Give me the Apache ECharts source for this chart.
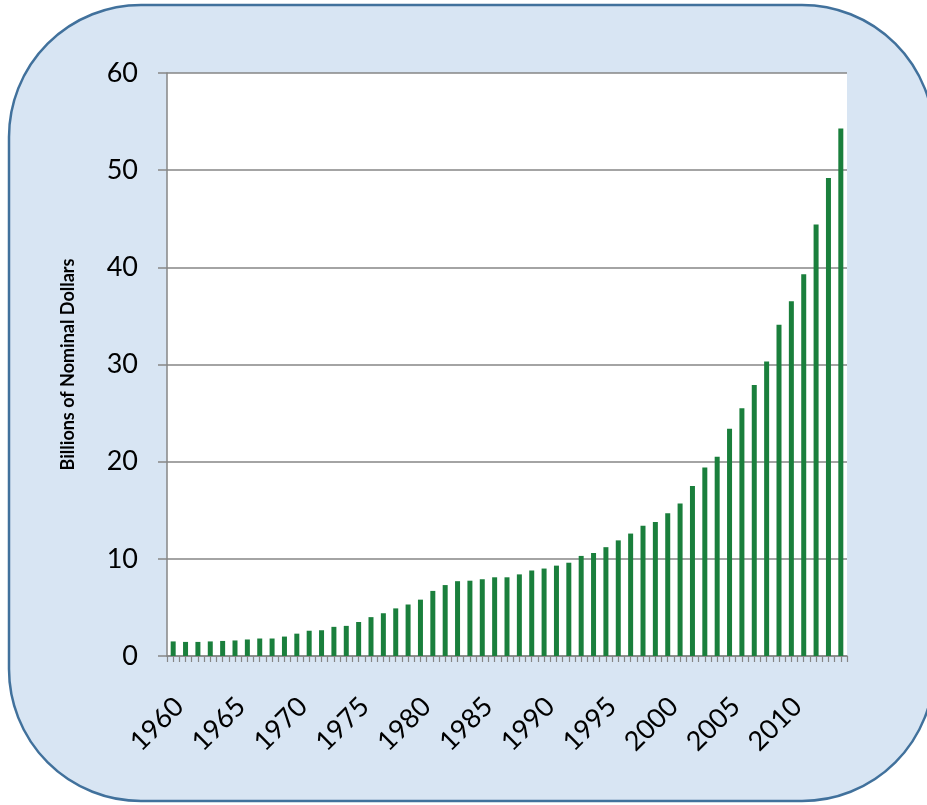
<!DOCTYPE html>
<html>
<head>
<meta charset="utf-8">
<script src="https://cdn.jsdelivr.net/npm/echarts@6/dist/echarts.min.js"></script>
<style>
  html, body { margin: 0; padding: 0; background: #ffffff; }
  #chart { width: 927px; height: 805px; }
</style>
</head>
<body>
<div id="chart"></div>
<script>
// Annual spending, billions of nominal dollars, 1960-2014
const years = [];
for (let y = 1960; y <= 2014; y++) years.push(String(y));

const values = [
  1.5, 1.45, 1.45, 1.5, 1.55, 1.6, 1.7, 1.8, 1.8, 2.0,
  2.3, 2.6, 2.65, 3.0, 3.1, 3.5, 4.0, 4.4, 4.9, 5.3,
  5.8, 6.7, 7.3, 7.7, 7.75, 7.9, 8.1, 8.1, 8.4, 8.8,
  9.0, 9.3, 9.6, 10.3, 10.6, 11.2, 11.9, 12.6, 13.4, 13.8,
  14.7, 15.7, 17.5, 19.4, 20.5, 23.4, 25.5, 27.9, 30.3, 34.1,
  36.5, 39.3, 44.4, 49.2, 54.3
];

const yTicks = [0, 10, 20, 30, 40, 50, 60];
const axisTitle = 'Billions of Nominal Dollars';

const chart = echarts.init(document.getElementById('chart'), null, { renderer: 'canvas' });

const gridColor = '#868686';
const labelFont = 'Lato, "Open Sans", sans-serif';

chart.setOption({
  animation: false,
  backgroundColor: '#ffffff',
  graphic: [{
    type: 'rect',
    z: -10,
    silent: true,
    shape: { x: 9, y: 5, width: 925, height: 796, r: 132 },
    style: { fill: '#d8e5f3', stroke: '#41719c', lineWidth: 2.5 }
  }],
  grid: {
    left: 167, right: 80, top: 73, bottom: 149,
    show: true, backgroundColor: '#ffffff', borderWidth: 0
  },
  xAxis: [{
    type: 'category',
    data: years,
    boundaryGap: true,
    axisLine: { show: true, lineStyle: { color: gridColor, width: 1.5 } },
    axisTick: { show: true, interval: 0, length: 6, lineStyle: { color: gridColor, width: 1.2 } },
    axisLabel: {
      interval: 4, rotate: 45, margin: 33,
      align: 'right', verticalAlign: 'top',
      padding: [0, 5, 0, 0],
      color: '#000', fontSize: 27, fontFamily: labelFont
    }
  }, {
    // second tick row: marks at the centre of every bar
    type: 'category',
    data: years,
    position: 'bottom',
    boundaryGap: true,
    axisLine: { show: false },
    axisTick: { show: true, interval: 0, alignWithLabel: true, length: 6, lineStyle: { color: gridColor, width: 1.2 } },
    axisLabel: { show: false }
  }],
  yAxis: {
    type: 'value',
    min: yTicks[0], max: yTicks[yTicks.length - 1], interval: 10,
    name: axisTitle,
    nameLocation: 'middle',
    nameGap: 90,
    nameRotate: 90,
    nameTextStyle: { fontSize: 18, fontWeight: 'bold', color: '#000', fontFamily: labelFont },
    axisLine: { show: true, lineStyle: { color: gridColor, width: 1.5 } },
    axisTick: { show: true, length: 9, lineStyle: { color: gridColor, width: 1.5 } },
    axisLabel: { color: '#000', fontSize: 27, margin: 29, fontFamily: labelFont },
    splitLine: { show: true, lineStyle: { color: gridColor, width: 1.5 } }
  },
  series: [{
    type: 'bar',
    data: values,
    barWidth: 5,
    itemStyle: { color: '#1a7f3c' }
  }]
});
</script>
</body>
</html>
